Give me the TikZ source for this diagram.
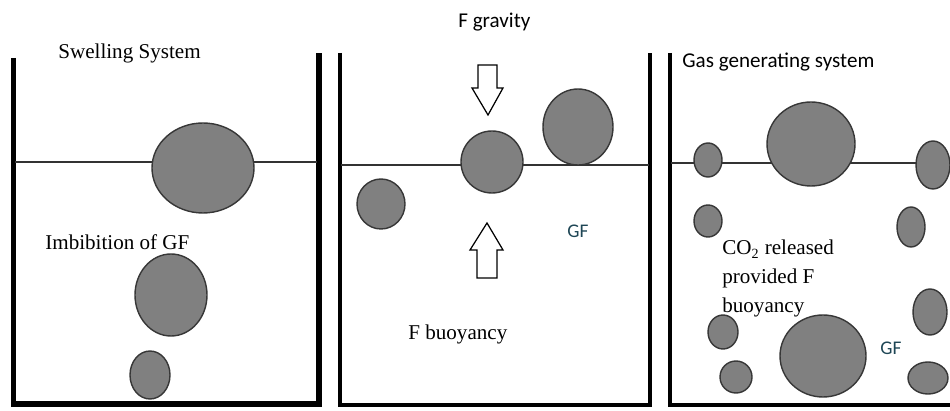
\documentclass[tikz,border=0pt]{standalone}
\usepackage{fontspec}
\setmainfont{Liberation Serif}
\newfontfamily\calfont{Carlito}
\usepackage{tikz}
\usetikzlibrary{positioning}
\definecolor{ballgray}{RGB}{128,128,128}
\definecolor{balledge}{RGB}{55,55,55}
\definecolor{gfteal}{RGB}{30,70,85}

\begin{document}
\begin{tikzpicture}[x=0.02cm, y=-0.02cm,
    wall/.style={line width=2.3pt, black},
    water/.style={line width=0.8pt, black!80},
    ball/.style={fill=ballgray, draw=balledge, line width=0.8pt},
    force/.style={fill=white, draw=black, line width=0.7pt},
    serif/.style={font=\fontsize{12}{14}\selectfont, anchor=base west, inner sep=0pt},
    sans/.style={font=\calfont\fontsize{12}{14}\selectfont, anchor=base west, inner sep=0pt}]
  \useasboundingbox (0,0) rectangle (950,411);

  % swelling system
  \draw[wall, line width=3pt] (13.5,58) -- (13.5,404) -- (319,404) -- (319,53);
  \draw[water] (15,162) -- (317,162);
  \draw[ball] (203,168) ellipse [x radius=51, y radius=45];
  \draw[ball] (171,295) ellipse [x radius=36, y radius=41];
  \draw[ball] (150,375) ellipse [x radius=20, y radius=24];
  \node[serif] (swell) at (58,59) {Swelling System};
  \node[serif] (imbib) at (45,250) {Imbibition of GF};

  % floating system
  \draw[wall] (340,53) -- (340,405) -- (650,405) -- (650,53);
  \draw[water] (341,165) -- (649,165);
  \draw[ball] (381,204) ellipse [x radius=24, y radius=25];
  \draw[ball] (492,162) ellipse [x radius=31, y radius=31];
  \draw[ball] (578,127) ellipse [x radius=35, y radius=38];
  \draw[force] (478,65) -- (497,65) -- (497,88) -- (503,88) -- (488,115)
    -- (472,88) -- (478,88) -- cycle;
  \draw[force] (487,223) -- (503,250) -- (497,250) -- (497,278) -- (477,278)
    -- (477,250) -- (470,250) -- cycle;
  \node[sans] (grav) at (458,28) {F gravity};
  \node[sans, text=gfteal, font=\calfont\fontsize{11}{13}\selectfont] (gfa) at (567,238) {GF};
  \node[serif] (buoy) at (408,340) {F buoyancy};

  % gas generating system
  \draw[wall] (670,53) -- (670,405) -- (950,405);
  \draw[water] (671,163) -- (950,163);
  \foreach \cx/\cy/\rx/\ry in {708/160/14/17, 811/144/44/42, 933/165/17/24,
      708/221/14/16, 911/227/14/20, 930/312/17/23, 723/332/15/17,
      823/356/43/41, 736/377/16/16, 928/378/20/16}
    \draw[ball] (\cx,\cy) ellipse [x radius=\rx, y radius=\ry];
  \node[sans] (gas) at (682,68) {Gas generating system};
  \node[serif] (co2a) at (722,255) {CO\textsubscript{2} released};
  \node[serif] (co2b) at (722,284) {provided F};
  \node[serif] (co2c) at (722,313) {buoyancy};
  \node[sans, text=gfteal, font=\calfont\fontsize{11}{13}\selectfont] (gfb) at (880,355) {GF};
\end{tikzpicture}
\end{document}
